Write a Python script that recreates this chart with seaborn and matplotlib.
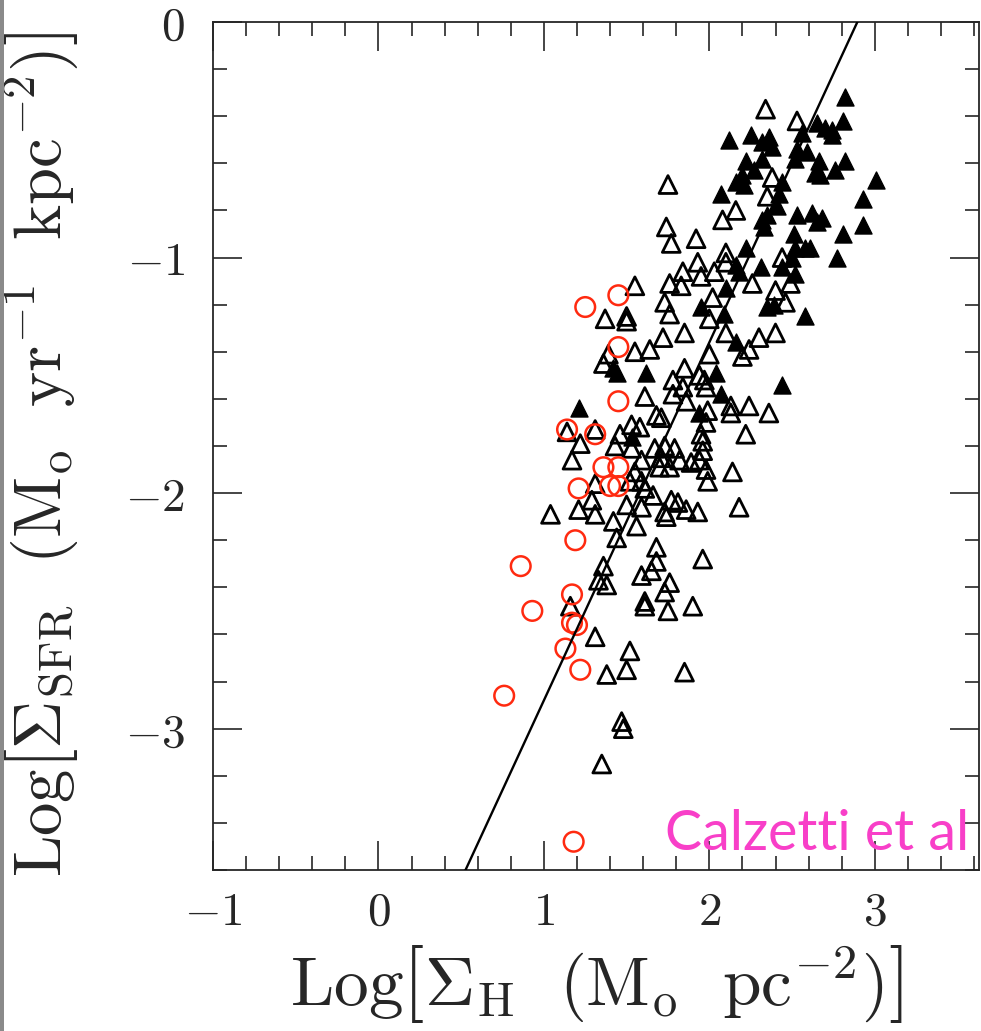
import numpy as np
import pandas as pd
import matplotlib
matplotlib.use("Agg")
import matplotlib.pyplot as plt
import seaborn as sns
from matplotlib.ticker import MultipleLocator, FuncFormatter
from matplotlib.patches import Rectangle

# --- data (log surface densities) ---
open_x = [2.34, 2.53, 1.75, 2.38, 2.35, 2.16, 2.08, 1.74, 1.77, 1.92, 2.10, 2.44, 1.93, 1.84,
          1.95, 2.03, 2.10, 1.76, 1.83, 1.55, 2.26, 2.40, 2.49, 2.46, 2.02, 1.73, 1.76, 1.50,
          1.37, 1.50, 2.00, 2.10, 1.85, 1.72, 1.64, 1.55, 1.39, 1.36, 2.00, 2.20, 2.24, 2.30,
          2.40, 1.85, 1.78, 1.94, 1.97, 1.84, 1.78, 1.98, 1.61, 1.86, 1.68, 1.71, 1.99, 1.98,
          2.13, 2.13, 2.24, 2.36, 2.22, 1.95, 1.96, 1.96, 1.94, 1.98, 1.99, 2.14, 2.18, 1.96,
          1.53, 1.58, 1.46, 1.43, 1.53, 1.22, 1.17, 1.14, 1.31, 1.67, 1.73, 1.79, 1.71, 1.70,
          1.76, 1.82, 1.89, 1.59, 1.55, 1.59, 1.52, 1.61, 1.31, 1.29, 1.21, 1.31, 1.04, 1.50,
          1.59, 1.66, 1.77, 1.81, 1.86, 1.93, 1.73, 1.74, 1.42, 1.56, 1.44, 1.68, 1.68, 1.65,
          1.59, 1.36, 1.33, 1.38, 1.76, 1.73, 1.75, 1.90, 1.61, 1.61, 1.16, 1.31, 1.52, 1.50,
          1.38, 1.85, 1.47, 1.48, 1.35]
open_y = [-0.37, -0.42, -0.69, -0.66, -0.74, -0.80, -0.84, -0.87, -0.94, -0.92, -0.98, -1.00, -1.02, -1.06,
          -1.08, -1.06, -1.02, -1.11, -1.12, -1.12, -1.11, -1.14, -1.11, -1.19, -1.17, -1.19, -1.24, -1.25,
          -1.26, -1.27, -1.26, -1.32, -1.32, -1.34, -1.39, -1.40, -1.41, -1.45, -1.41, -1.42, -1.39, -1.34,
          -1.32, -1.47, -1.52, -1.50, -1.52, -1.55, -1.58, -1.55, -1.59, -1.61, -1.67, -1.68, -1.65, -1.70,
          -1.63, -1.66, -1.63, -1.66, -1.75, -1.75, -1.78, -1.82, -1.86, -1.90, -1.95, -1.91, -2.06, -2.28,
          -1.71, -1.72, -1.75, -1.80, -1.81, -1.79, -1.86, -1.74, -1.73, -1.81, -1.80, -1.81, -1.85, -1.89,
          -1.89, -1.86, -1.87, -1.86, -1.91, -1.95, -1.95, -1.98, -1.96, -2.03, -2.07, -2.09, -2.09, -2.05,
          -2.06, -2.01, -2.03, -2.04, -2.07, -2.08, -2.08, -2.10, -2.12, -2.14, -2.19, -2.23, -2.29, -2.33,
          -2.35, -2.31, -2.37, -2.39, -2.38, -2.42, -2.50, -2.48, -2.46, -2.48, -2.48, -2.61, -2.67, -2.75,
          -2.77, -2.76, -2.97, -3.00, -3.15]

filled_x = [2.82, 2.81, 2.65, 2.70, 2.74, 2.74, 2.12, 2.25, 2.32, 2.36, 2.38, 2.56, 2.53, 2.59,
            2.52, 2.22, 2.32, 2.27, 2.20, 2.16, 2.21, 2.66, 2.82, 2.64, 2.67, 2.76, 3.01, 2.44,
            2.42, 2.41, 2.07, 2.93, 2.53, 2.62, 2.68, 2.65, 2.93, 2.35, 2.32, 2.33, 2.51, 2.81,
            2.22, 2.52, 2.58, 2.61, 2.50, 2.77, 2.31, 2.44, 2.16, 2.18, 2.52, 2.35, 2.39, 2.58,
            2.09, 2.10, 1.95, 2.16, 2.04, 2.07, 2.44, 1.44, 1.42, 1.62, 1.21, 1.94, 1.53]
filled_y = [-0.32, -0.42, -0.43, -0.45, -0.46, -0.48, -0.50, -0.48, -0.51, -0.49, -0.53, -0.47, -0.54, -0.55,
            -0.58, -0.59, -0.58, -0.63, -0.65, -0.68, -0.69, -0.59, -0.59, -0.64, -0.65, -0.63, -0.67, -0.68,
            -0.73, -0.78, -0.73, -0.75, -0.82, -0.81, -0.83, -0.85, -0.86, -0.82, -0.84, -0.87, -0.90, -0.90,
            -0.96, -0.96, -0.96, -0.96, -1.00, -1.00, -1.04, -1.04, -1.03, -1.06, -1.07, -1.21, -1.20, -1.25,
            -1.24, -1.13, -1.21, -1.36, -1.49, -1.58, -1.54, -1.49, -1.47, -1.49, -1.64, -1.66, -1.76]

circle_x = [1.25, 1.45, 1.45, 1.45, 1.14, 1.31, 1.36, 1.45, 1.40, 1.45, 1.21, 1.19, 0.86, 1.17,
            0.93, 1.17, 1.20, 1.13, 1.22, 0.76, 1.18]
circle_y = [-1.21, -1.16, -1.38, -1.61, -1.73, -1.75, -1.89, -1.89, -1.97, -1.97, -1.98, -2.20, -2.31, -2.43,
            -2.50, -2.55, -2.56, -2.66, -2.75, -2.86, -3.48]

# Schmidt-law line: log SFR = slope * log Sigma + intercept
fit_slope = 1.52
fit_intercept = -4.40

x_ticks = [-1, 0, 1, 2, 3]
y_ticks = [0, -1, -2, -3]

sns.set_style("ticks")
plt.rcParams["mathtext.fontset"] = "cm"
plt.rcParams["font.family"] = ["DejaVu Serif"]

fig = plt.figure(figsize=(9.81, 10.31), dpi=100)
ax = fig.add_axes([213 / 981, 161 / 1031, 766 / 981, 848 / 1031])

opens = pd.DataFrame({"x": open_x, "y": open_y})
filled = pd.DataFrame({"x": filled_x, "y": filled_y})
circles = pd.DataFrame({"x": circle_x, "y": circle_y})

sns.scatterplot(data=opens, x="x", y="y", ax=ax, marker="^", s=165,
                facecolor="none", edgecolor="black", linewidth=2.0, zorder=3)
sns.scatterplot(data=filled, x="x", y="y", ax=ax, marker="^", s=150,
                color="black", edgecolor="black", linewidth=1.0, zorder=4)
sns.scatterplot(data=circles, x="x", y="y", ax=ax, marker="o", s=200,
                facecolor="none", edgecolor="#ff2a10", linewidth=1.8, zorder=5)

line_x = np.linspace(-1, 3.7, 50)
line = pd.DataFrame({"x": line_x, "y": fit_slope * line_x + fit_intercept})
sns.lineplot(data=line, x="x", y="y", ax=ax, color="black", linewidth=1.7, zorder=6)

ax.set_xlim(-1, 3.63)
ax.set_ylim(-3.6, 0)

ax.set_xticks(x_ticks)
ax.set_yticks(y_ticks)
ax.xaxis.set_minor_locator(MultipleLocator(0.2))
ax.yaxis.set_minor_locator(MultipleLocator(0.2))
fmt = FuncFormatter(lambda v, p: f"${v:g}$")
ax.xaxis.set_major_formatter(fmt)
ax.yaxis.set_major_formatter(fmt)
ax.tick_params(which="both", direction="in", top=True, right=True, width=1.2, labelsize=34)
ax.tick_params(which="major", length=21)
ax.tick_params(which="minor", length=10)
ax.tick_params(axis="x", which="major", pad=14)
ax.tick_params(axis="y", which="major", pad=20)
for sp in ax.spines.values():
    sp.set_linewidth(1.3)

ax.set_xlabel(r"$\mathrm{Log}\left[\Sigma_{\mathrm{H}}\ \ (\mathrm{M}_{\mathrm{o}}\ \ \mathrm{pc}^{-2})\right]$",
              fontsize=50, labelpad=6)
ax.set_ylabel(r"$\mathrm{Log}\left[\Sigma_{\mathrm{SFR}}\ \ (\mathrm{M}_{\mathrm{o}}\ \ \mathrm{yr}^{-1}\ \ \mathrm{kpc}^{-2})\right]$",
              fontsize=48)
ax.yaxis.set_label_coords(-0.172, 0.49)

ax.text(0.987, 0.024, "Calzetti et al", transform=ax.transAxes, ha="right", va="baseline",
        fontsize=40, color="#f83fc8", family=["Lato", "DejaVu Sans"], zorder=7)

fig.patches.append(Rectangle((0, 0), 4 / 981, 1, transform=fig.transFigure,
                             facecolor="#8a8a8a", edgecolor="none"))

fig.savefig("out.png", dpi=100)
